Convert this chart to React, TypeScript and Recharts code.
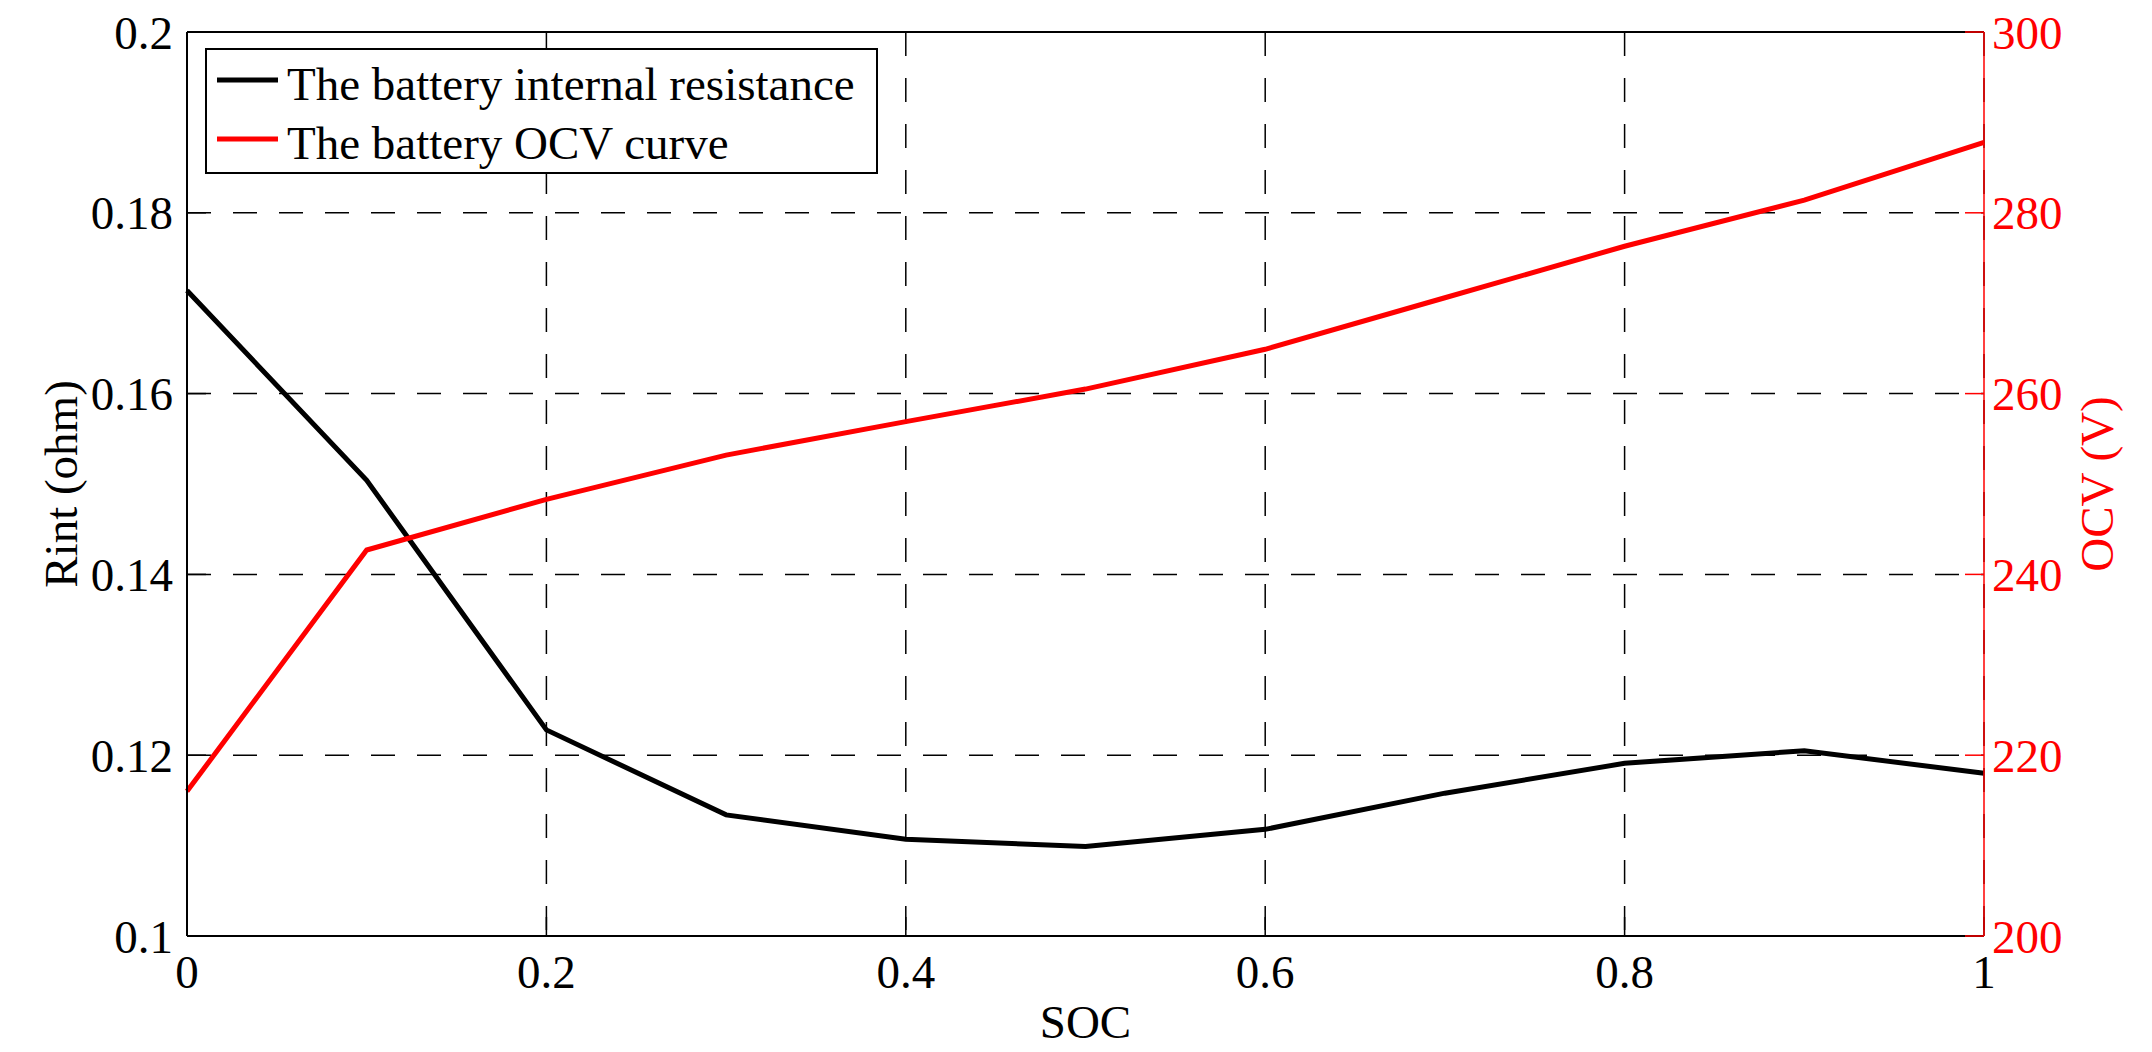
import React from 'react';
import { LineChart, Line, XAxis, YAxis, CartesianGrid, Legend } from 'recharts';

const socValues = [0, 0.1, 0.2, 0.3, 0.4, 0.5, 0.6, 0.7, 0.8, 0.9, 1];
const rintValues = [0.1714, 0.1504, 0.1228, 0.1134, 0.1107, 0.1099, 0.1118, 0.1158, 0.1191, 0.1205, 0.118];
const ocvValues = [216.0, 242.7, 248.3, 253.2, 256.9, 260.5, 264.9, 270.6, 276.3, 281.4, 287.8];

const xTicks = [0, 0.2, 0.4, 0.6, 0.8, 1];
const rintTicks = [0.1, 0.12, 0.14, 0.16, 0.18, 0.2];
const ocvTicks = [200, 220, 240, 260, 280, 300];

const seriesNames = ['The battery internal resistance', 'The battery OCV curve'];
const seriesColors = ['#000000', '#ff0000'];

const data = socValues.map((s, i) => ({ soc: s, rint: rintValues[i], ocv: ocvValues[i] }));

const W = 2152;
const H = 1052;
const FONT = "'Liberation Serif', 'Times New Roman', Times, serif";
const FS = 47;
const LEFT_W = 187;
const RIGHT_W = 168;
const BOTTOM_H = 116;
const TOP_H = 32;
const PLOT_TOP = TOP_H;
const PLOT_BOTTOM = H - BOTTOM_H;
const PLOT_MID_Y = (PLOT_TOP + PLOT_BOTTOM) / 2;
const PLOT_MID_X = (LEFT_W + (W - RIGHT_W)) / 2;

const RintLabel = () => (
  <text
    x={77}
    y={PLOT_MID_Y}
    transform={`rotate(-90 77 ${PLOT_MID_Y})`}
    textAnchor="middle"
    fontFamily={FONT}
    fontSize={FS}
    fill="#000"
  >
    Rint (ohm)
  </text>
);

const OcvLabel = () => (
  <text
    x={W - RIGHT_W + 129}
    y={PLOT_MID_Y}
    transform={`rotate(-90 ${W - RIGHT_W + 129} ${PLOT_MID_Y})`}
    textAnchor="middle"
    fontFamily={FONT}
    fontSize={FS}
    fill="#ff0000"
  >
    OCV (V)
  </text>
);

const SocLabel = () => (
  <text x={PLOT_MID_X} y={PLOT_BOTTOM + 102} textAnchor="middle" fontFamily={FONT} fontSize={FS} fill="#000">
    SOC
  </text>
);

const LegendBox = () => (
  <svg width={673} height={126} style={{ display: 'block' }}>
    <rect x={1} y={1} width={671} height={124} fill="#fff" stroke="#000" strokeWidth={2} />
    {seriesNames.map((name, i) => (
      <g key={name}>
        <line x1={12} x2={73} y1={32 + i * 59} y2={32 + i * 59} stroke={seriesColors[i]} strokeWidth={5} />
        <text x={82} y={52 + i * 59} fontFamily={FONT} fontSize={FS} fill="#000">
          {name}
        </text>
      </g>
    ))}
  </svg>
);

export default function App() {
  return (
    <div style={{ position: 'absolute', left: 0, top: 0, width: W, height: H, background: '#fff' }}>
      <LineChart width={W} height={H} data={data} margin={{ top: 0, right: 0, bottom: 0, left: 0 }}>
        <CartesianGrid
          xAxisId="x"
          yAxisId="left"
          stroke="#000"
          strokeWidth={1.5}
          strokeDasharray="24 22"
          verticalValues={xTicks}
          horizontalValues={rintTicks}
        />
        <XAxis
          xAxisId="x"
          dataKey="soc"
          type="number"
          domain={[0, 1]}
          ticks={xTicks}
          tickFormatter={(v) => String(v)}
          height={BOTTOM_H}
          axisLine={{ stroke: '#000', strokeWidth: 2 }}
          tickLine={{ stroke: '#000', strokeWidth: 1.5 }}
          tickSize={-19}
          tickMargin={38}
          tick={{ fontFamily: FONT, fontSize: FS, fill: '#000' }}
          interval={0}
          label={SocLabel}
        />
        <XAxis
          xAxisId="top"
          orientation="top"
          dataKey="soc"
          type="number"
          domain={[0, 1]}
          ticks={xTicks}
          height={TOP_H}
          axisLine={{ stroke: '#000', strokeWidth: 2 }}
          tickLine={{ stroke: '#000', strokeWidth: 1.5 }}
          tickSize={-19}
          tick={false}
          interval={0}
        />
        <YAxis
          yAxisId="left"
          orientation="left"
          type="number"
          domain={[0.1, 0.2]}
          ticks={rintTicks}
          tickFormatter={(v) => String(v)}
          width={LEFT_W}
          axisLine={{ stroke: '#000', strokeWidth: 2 }}
          tickLine={{ stroke: '#000', strokeWidth: 1.5 }}
          tickSize={-19}
          tickMargin={33}
          tick={{ fontFamily: FONT, fontSize: FS, fill: '#000' }}
          interval={0}
          label={RintLabel}
        />
        <YAxis
          yAxisId="right"
          orientation="right"
          type="number"
          domain={[200, 300]}
          ticks={ocvTicks}
          tickFormatter={(v) => String(v)}
          width={RIGHT_W}
          axisLine={{ stroke: '#ff0000', strokeWidth: 1.5 }}
          tickLine={{ stroke: '#ff0000', strokeWidth: 1.5 }}
          tickSize={-19}
          tickMargin={27}
          tick={{ fontFamily: FONT, fontSize: FS, fill: '#ff0000' }}
          interval={0}
          label={OcvLabel}
        />
        <Line
          xAxisId="x"
          yAxisId="left"
          type="linear"
          dataKey="rint"
          name={seriesNames[0]}
          stroke={seriesColors[0]}
          strokeWidth={5}
          dot={false}
          activeDot={false}
          isAnimationActive={false}
        />
        <Line
          xAxisId="x"
          yAxisId="right"
          type="linear"
          dataKey="ocv"
          name={seriesNames[1]}
          stroke={seriesColors[1]}
          strokeWidth={5}
          dot={false}
          activeDot={false}
          isAnimationActive={false}
        />
        <Legend
          layout="vertical"
          align="center"
          verticalAlign="middle"
          content={LegendBox}
          wrapperStyle={{ position: 'absolute', left: 205, top: 48, width: 673, height: 126 }}
        />
      </LineChart>
    </div>
  );
}
